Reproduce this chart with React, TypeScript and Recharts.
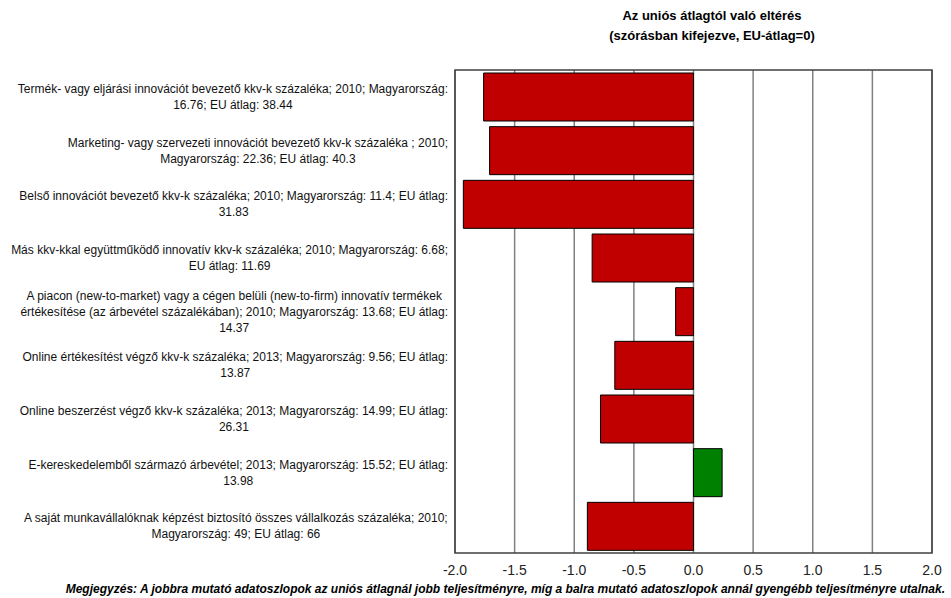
import React from 'react';
import {
  BarChart, Bar, XAxis, YAxis, CartesianGrid, Cell, ReferenceArea,
} from 'recharts';

const categories = [
  'Termék- vagy eljárási innovációt bevezető kkv-k százaléka; 2010; Magyarország:\n16.76; EU átlag: 38.44',
  'Marketing- vagy szervezeti innovációt bevezető kkv-k százaléka ; 2010;\nMagyarország: 22.36; EU átlag: 40.3',
  'Belső innovációt bevezető kkv-k százaléka; 2010; Magyarország: 11.4; EU átlag:\n31.83',
  'Más kkv-kkal együttműködő innovatív kkv-k százaléka; 2010; Magyarország: 6.68;\nEU átlag: 11.69',
  'A piacon (new-to-market) vagy a cégen belüli (new-to-firm) innovatív termékek\nértékesítése (az árbevétel százalékában); 2010; Magyarország: 13.68; EU átlag:\n14.37',
  'Online értékesítést végző kkv-k százaléka; 2013; Magyarország: 9.56; EU átlag:\n13.87',
  'Online beszerzést végző kkv-k százaléka; 2013; Magyarország: 14.99; EU átlag:\n26.31',
  'E-kereskedelemből származó árbevétel; 2013; Magyarország: 15.52; EU átlag:\n13.98',
  'A saját munkavállalóknak képzést biztosító összes vállalkozás százaléka; 2010;\nMagyarország: 49; EU átlag: 66',
];

const deviation = [-1.76, -1.71, -1.93, -0.85, -0.15, -0.66, -0.78, 0.24, -0.89];

const xTicks = [-2, -1.5, -1, -0.5, 0, 0.5, 1, 1.5, 2];

const titleLines = ['Az uniós átlagtól való eltérés', '(szórásban kifejezve, EU-átlag=0)'];
const note = 'Megjegyzés: A jobbra mutató adatoszlopok az uniós átlagnál jobb teljesítményre, míg a balra mutató adatoszlopok annál gyengébb teljesítményre utalnak.';

const FONT = "'Liberation Sans', Arial, sans-serif";
const RED = '#C00000';
const GREEN = '#008000';

const data = categories.map((name, i) => ({ name, value: deviation[i] }));

let canvas: HTMLCanvasElement | null = null;
function textWidth(s: string, font: string) {
  if (!canvas) canvas = document.createElement('canvas');
  const ctx = canvas.getContext('2d')!;
  ctx.font = font;
  return ctx.measureText(s).width;
}

function CategoryTick(props: any) {
  const { x, y, payload } = props;
  const lines: string[] = String(payload.value).split('\n');
  const maxW = Math.max(...lines.map((l) => textWidth(l, `12px ${FONT}`)));
  const cx = x - maxW / 2;
  const lh = 16;
  const startY = y - ((lines.length - 1) * lh) / 2 + 4;
  return (
    <text x={cx} y={startY} textAnchor="middle" fontSize={12} fontFamily={FONT} fill="#111">
      {lines.map((l, i) => (
        <tspan key={i} x={cx} y={startY + i * lh}>{l}</tspan>
      ))}
    </text>
  );
}

export default function App() {
  return (
    <div style={{ position: 'absolute', left: 0, top: 0, width: 951, height: 598, background: '#fff' }}>
      <svg width={951} height={598} style={{ position: 'absolute', left: 0, top: 0 }}>
        {titleLines.map((t, i) => (
          <text key={i} x={712} y={20 + i * 20} textAnchor="middle" fontSize={13} fontWeight="bold" fontFamily={FONT} fill="#000">
            {t}
          </text>
        ))}
        <text x={945} y={593} textAnchor="end" fontSize={12} fontWeight="bold" fontStyle="italic" fontFamily={FONT} fill="#000">
          {note}
        </text>
      </svg>
      <div style={{ position: 'absolute', left: 0, top: 0 }}>
        <BarChart
          width={951}
          height={598}
          data={data}
          layout="vertical"
          margin={{ top: 70, right: 19, bottom: 20, left: 0 }}
          barCategoryGap={3}
        >
          <CartesianGrid horizontal={false} stroke="#808080" strokeWidth={1.5} />
          <XAxis
            type="number"
            domain={[-2, 2]}
            ticks={xTicks}
            tickFormatter={(v: number) => v.toFixed(1)}
            axisLine={false}
            tickLine={false}
            height={25}
            tick={{ fontSize: 14, fontFamily: FONT, fill: '#222' }}
            tickMargin={6}
          />
          <YAxis
            type="category"
            dataKey="name"
            width={455}
            axisLine={false}
            tickLine={false}
            tickSize={0}
            tickMargin={7}
            interval={0}
            tick={(p: any) => <CategoryTick {...p} />}
          />
          <Bar dataKey="value" stroke="#000" strokeWidth={1} isAnimationActive={false}>
            {data.map((d, i) => (
              <Cell key={i} fill={d.value >= 0 ? GREEN : RED} />
            ))}
          </Bar>
          <ReferenceArea x1={-2} x2={2} fill="none" fillOpacity={0} stroke="#404040" strokeWidth={1.5} ifOverflow="visible" />
        </BarChart>
      </div>
    </div>
  );
}
